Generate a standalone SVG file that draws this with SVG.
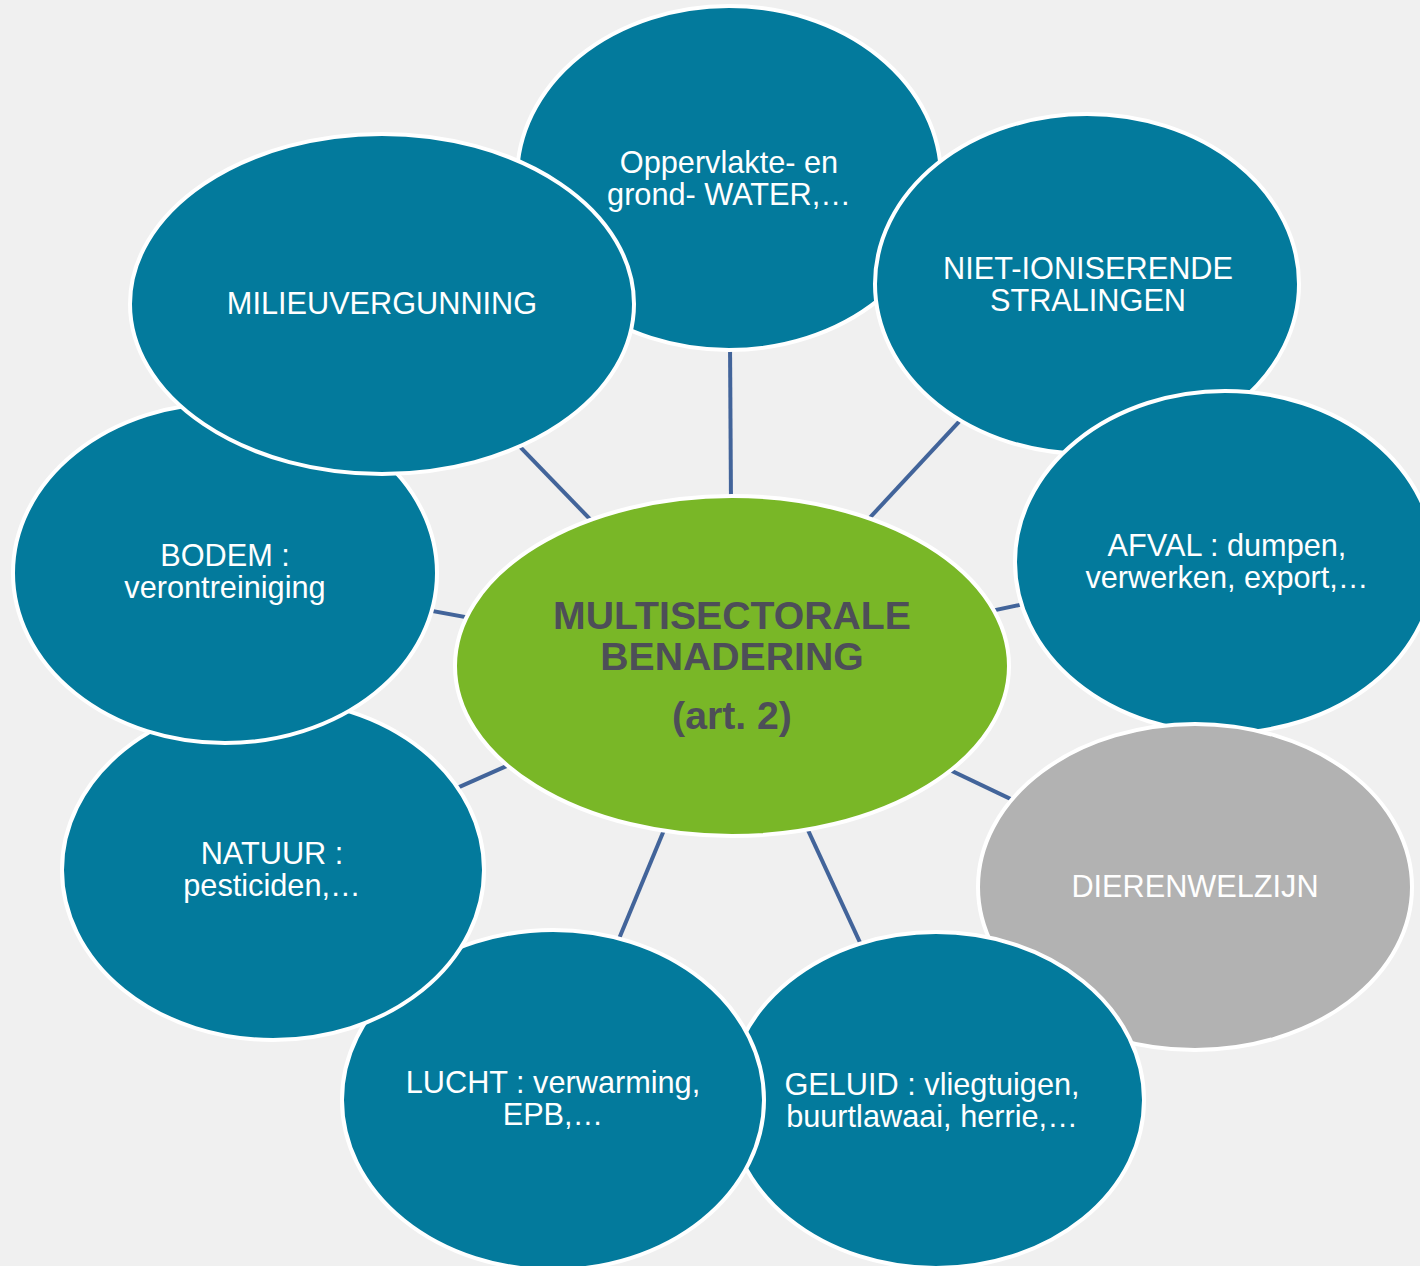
<svg xmlns="http://www.w3.org/2000/svg" width="1420" height="1266" viewBox="0 0 1420 1266">
<style>
.bg{fill:#f0f0f0}
.n{fill:#037a9c;stroke:#ffffff;stroke-width:4}
.g{fill:#b2b2b2;stroke:#ffffff;stroke-width:4}
.c{fill:#79b727;stroke:#ffffff;stroke-width:4}
.conn line{stroke:#42649a;stroke-width:4}
.t{font-family:"Liberation Sans",Arial,sans-serif;font-size:30.7px;fill:#ffffff;text-anchor:middle}
.ct{font-family:"Liberation Sans",Arial,sans-serif;font-size:39.2px;font-weight:bold;fill:#4d4e58;text-anchor:middle}
</style>
<rect class="bg" x="0" y="0" width="1420" height="1266"/>
<g id="connectors" class="conn">
<line x1="732" y1="666" x2="729" y2="178"/>
<line x1="732" y1="666" x2="1087" y2="284"/>
<line x1="732" y1="666" x2="1222" y2="562"/>
<line x1="732" y1="666" x2="1195" y2="887"/>
<line x1="732" y1="666" x2="932" y2="1098"/>
<line x1="732" y1="666" x2="553" y2="1098"/>
<line x1="732" y1="666" x2="272" y2="870"/>
<line x1="732" y1="666" x2="225" y2="573"/>
<line x1="732" y1="666" x2="382" y2="304"/>
</g>
<g id="water">
<ellipse class="n" cx="729" cy="178" rx="212" ry="172"/>
<text class="t" x="729" y="173">Oppervlakte- en</text>
<text class="t" x="729" y="205">grond- WATER,…</text>
</g>
<g id="niet-ioniserende">
<ellipse class="n" cx="1087" cy="284" rx="212" ry="170"/>
<text class="t" x="1088" y="279">NIET-IONISERENDE</text>
<text class="t" x="1088" y="311">STRALINGEN</text>
</g>
<g id="afval">
<ellipse class="n" cx="1225" cy="562" rx="210" ry="171"/>
<text class="t" x="1227" y="556">AFVAL : dumpen,</text>
<text class="t" x="1227" y="588">verwerken, export,…</text>
</g>
<g id="dierenwelzijn">
<ellipse class="g" cx="1195" cy="887" rx="217" ry="163"/>
<text class="t" x="1195" y="897">DIERENWELZIJN</text>
</g>
<g id="geluid">
<ellipse class="n" cx="936" cy="1100" rx="208" ry="168"/>
<text class="t" x="932" y="1095">GELUID : vliegtuigen,</text>
<text class="t" x="932" y="1127">buurtlawaai, herrie,…</text>
</g>
<g id="lucht">
<ellipse class="n" cx="553" cy="1100" rx="211" ry="170"/>
<text class="t" x="553" y="1093">LUCHT : verwarming,</text>
<text class="t" x="553" y="1125">EPB,…</text>
</g>
<g id="natuur">
<ellipse class="n" cx="273" cy="870" rx="211" ry="170"/>
<text class="t" x="272" y="864">NATUUR :</text>
<text class="t" x="272" y="896">pesticiden,…</text>
</g>
<g id="bodem">
<ellipse class="n" cx="225" cy="573" rx="212" ry="170"/>
<text class="t" x="225" y="566">BODEM :</text>
<text class="t" x="225" y="598">verontreiniging</text>
</g>
<g id="milieuvergunning">
<ellipse class="n" cx="382" cy="304" rx="252" ry="170"/>
<text class="t" x="382" y="314">MILIEUVERGUNNING</text>
</g>
<g id="center">
<ellipse class="c" cx="732" cy="666" rx="277" ry="170"/>
<text class="ct" x="732" y="629">MULTISECTORALE</text>
<text class="ct" x="732" y="670">BENADERING</text>
<text class="ct" x="732" y="729">(art. 2)</text>
</g>
</svg>
